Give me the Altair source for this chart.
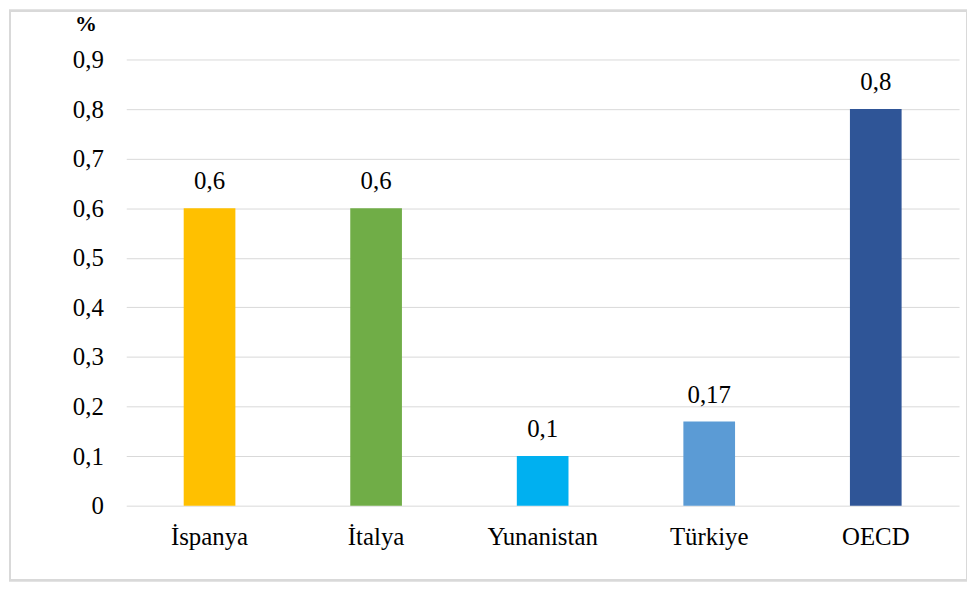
import altair as alt
import pandas as pd

countries = ["İspanya", "İtalya", "Yunanistan", "Türkiye", "OECD"]
values = [0.6, 0.6, 0.1, 0.17, 0.8]
colors = ["#FFC000", "#70AD47", "#00B0F0", "#5B9BD5", "#2F5597"]
y_ticks = [0, 0.1, 0.2, 0.3, 0.4, 0.5, 0.6, 0.7, 0.8, 0.9]

df = pd.DataFrame({"country": countries, "value": values})

FONT = "Liberation Serif"

x_enc = alt.X(
    "country:N",
    sort=countries,
    scale=alt.Scale(paddingInner=0.69, paddingOuter=0.345),
    axis=alt.Axis(
        title=None, labelAngle=0, labelFont=FONT, labelFontSize=25,
        labelColor="#000000", labelPadding=19, ticks=False, domain=False,
        grid=False,
    ),
)
y_enc = alt.Y(
    "value:Q",
    scale=alt.Scale(domain=[0, 0.9], nice=False),
    axis=alt.Axis(
        values=y_ticks, title="%", titleAngle=0, titleFont=FONT,
        titleFontSize=22, titleFontWeight="bold", titleColor="#000000",
        titleX=-41, titleY=-29, titleAlign="center", titleBaseline="alphabetic",
        labelExpr="datum.value == 0 ? '0' : replace(format(datum.value, '.1f'), '.', ',')",
        labelFont=FONT, labelFontSize=25, labelColor="#000000", labelPadding=23,
        ticks=False, domain=False, gridColor="#D9D9D9", gridWidth=1,
    ),
)

frame = alt.Chart(df).mark_rect(
    fill=None, stroke="#D9D9D9", strokeWidth=2, clip=False
).encode(
    x=alt.value(-117), x2=alt.value(846), y=alt.value(-49), y2=alt.value(524)
)

bars = alt.Chart(df).mark_bar(size=52).encode(
    x=x_enc,
    y=y_enc,
    color=alt.Color("country:N", scale=alt.Scale(domain=countries, range=colors), legend=None),
)

labels = alt.Chart(df).transform_calculate(
    lab="replace(toString(datum.value), '.', ',')"
).mark_text(
    font=FONT, fontSize=25, color="#000000", baseline="alphabetic", dy=-19
).encode(
    x=alt.X("country:N", sort=countries),
    y="value:Q",
    text="lab:N",
)

chart = alt.layer(frame, bars, labels).properties(
    width=838,
    height=449,
    autosize=alt.AutoSizeParams(type="none"),
    padding={"left": 119, "top": 50, "right": 8, "bottom": 76},
).configure_view(stroke=None)

chart.save("out.html", embed_options={"renderer": "svg", "actions": False})
